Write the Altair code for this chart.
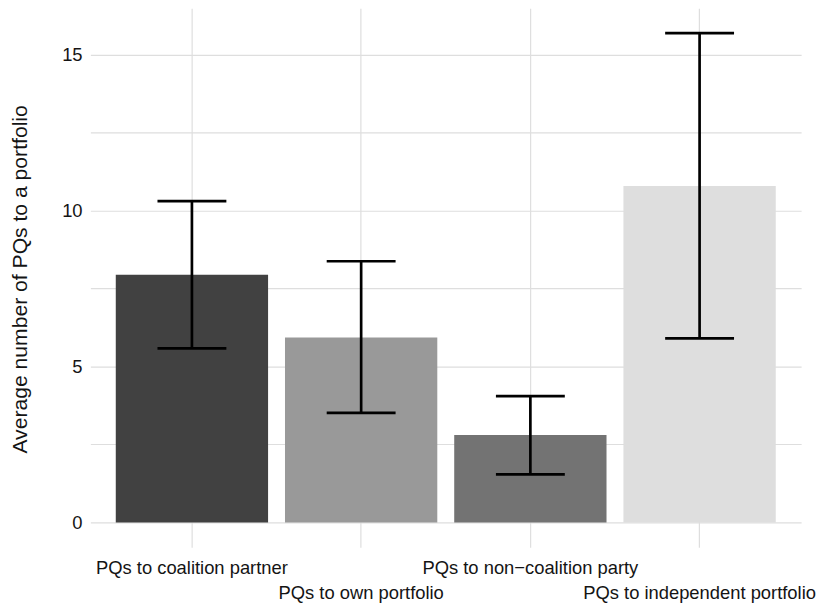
import altair as alt
import pandas as pd

categories = [
    "PQs to coalition partner",
    "PQs to own portfolio",
    "PQs to non\u2212coalition party",
    "PQs to independent portfolio",
]
means = [7.94, 5.93, 2.80, 10.78]
lower = [5.58, 3.51, 1.54, 5.90]
upper = [10.30, 8.37, 4.05, 15.68]
bar_colors = ["#414141", "#999999", "#737373", "#dedede"]
y_title = "Average number of PQs to a portfolio"
y_ticks = [0, 2.5, 5, 7.5, 10, 12.5, 15]

df = pd.DataFrame({"category": categories, "mean": means, "lower": lower, "upper": upper})
title_df = pd.DataFrame({"t": [y_title]})

FONT = "Liberation Sans"
GRID = "#dedede"

x_enc = alt.X(
    "category:N",
    sort=categories,
    scale=alt.Scale(paddingInner=0.1, paddingOuter=0.15),
    axis=alt.Axis(
        title=None, labels=False, ticks=False, domain=False,
        grid=True, gridColor=GRID, gridWidth=1.2, bandPosition=0.5,
    ),
)
y_scale = alt.Scale(domain=[-0.795, 16.48], nice=False, zero=False)
y_axis = alt.Axis(
    title=None, values=y_ticks, ticks=False, tickSize=0, domain=False,
    grid=True, gridColor=GRID, gridWidth=1.2,
    labelExpr="datum.value % 5 == 0 ? datum.label : ''",
    labelFont=FONT, labelFontSize=18.5, labelColor="#141414",
    labelPadding=8.4, labelOverlap=False,
)

bars = alt.Chart(df).mark_bar().encode(
    x=x_enc,
    y=alt.Y("mean:Q", scale=y_scale, axis=y_axis),
    y2=alt.datum(0),
    color=alt.Color("category:N", sort=categories,
                    scale=alt.Scale(domain=categories, range=bar_colors), legend=None),
)

stems = alt.Chart(df).mark_rule(color="black", strokeWidth=2.7).encode(
    x=x_enc,
    y=alt.Y("lower:Q", scale=y_scale, axis=y_axis),
    y2="upper:Q",
)

caps_hi = alt.Chart(df).mark_tick(color="black", thickness=2.7, size=69.4, opacity=1).encode(
    x=x_enc,
    y=alt.Y("upper:Q", scale=y_scale, axis=y_axis),
)
caps_lo = alt.Chart(df).mark_tick(color="black", thickness=2.7, size=69.4, opacity=1).encode(
    x=x_enc,
    y=alt.Y("lower:Q", scale=y_scale, axis=y_axis),
)

labels_base = alt.Chart(df).transform_window(rn="row_number()")
row1 = labels_base.transform_filter("datum.rn % 2 == 1").mark_text(
    font=FONT, fontSize=18.5, color="#141414", align="center", baseline="alphabetic"
).encode(x=x_enc, y=alt.value(569.7), text="category:N")
row2 = labels_base.transform_filter("datum.rn % 2 == 0").mark_text(
    font=FONT, fontSize=18.5, color="#141414", align="center", baseline="alphabetic"
).encode(x=x_enc, y=alt.value(595.5), text="category:N")

ytitle = alt.Chart(title_df).mark_text(
    font=FONT, fontSize=21.3, color="#141414", align="center",
    baseline="alphabetic", angle=270,
).encode(x=alt.value(-64), y=alt.value(273.2), text="t:N")

chart = alt.layer(bars, stems, caps_hi, caps_lo, row1, row2, ytitle).properties(
    width=716,
    height=543,
    autosize=alt.AutoSizeParams(type="none"),
    padding={"left": 83, "top": -2, "right": 17, "bottom": 60},
).configure_view(stroke=None)

chart.save("out.html", embed_options={"renderer": "svg", "actions": False})
